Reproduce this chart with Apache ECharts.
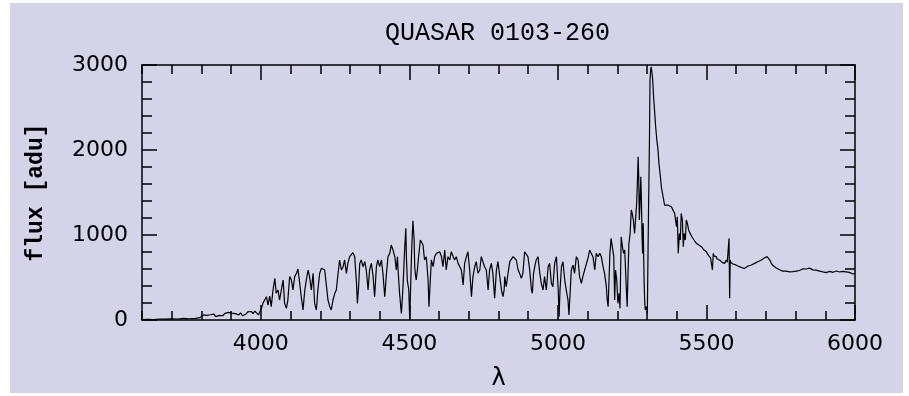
<!DOCTYPE html>
<html>
<head>
<meta charset="utf-8">
<title>QUASAR 0103-260</title>
<script src="https://cdn.jsdelivr.net/npm/echarts@6/dist/echarts.min.js"></script>
<style>
  html, body { margin: 0; padding: 0; background: #ffffff; }
  #panel { position: absolute; left: 10px; top: 3px; width: 893px; height: 390px; background: #d5d3e8; }
  #chart { position: absolute; left: 0; top: 0; width: 909px; height: 396px; }
</style>
</head>
<body>
<div id="panel"></div>
<div id="chart"></div>
<script>
// Spectrum of QUASAR 0103-260: [wavelength (Å), flux (adu)] pairs, blue to red.
const blueContinuum = [
  [3600,5],[3620,8],[3640,6],[3660,12],[3680,10],[3700,14],[3720,12],[3740,18],[3760,15],[3780,20],
  [3795,28],[3800,45],[3806,60],[3812,40],[3818,55],[3824,35],[3830,62],[3836,48],[3842,70],[3848,40],
  [3854,30],[3860,55],[3866,70],[3872,50],[3878,75],[3884,60],[3890,90],[3896,70],[3902,80],[3908,100],
  [3914,75],[3920,95],[3926,60],[3932,85],[3938,50],[3944,35],[3950,70],[3956,95],[3962,80],[3968,100],
  [3974,75],[3980,105],[3986,90],[3992,60]
];
const forestA = [
  [3996,39],[4002,137],[4007,196],[4013,235],[4019,274],[4024,176],[4030,282],[4035,157],[4041,353],[4047,490],
  [4052,314],[4058,353],[4063,235],[4069,353],[4075,470],[4080,196],[4086,137],[4091,235],[4097,510],[4103,470],
  [4108,353],[4114,510],[4120,549],[4125,600],[4131,431],[4136,274],[4142,118],[4148,353],[4153,470],[4159,588],
  [4164,510],[4170,353],[4176,549],[4181,196],[4187,118],[4192,353],[4198,549],[4204,608],[4209,608],[4215,588],
  [4221,392],[4226,235],[4232,157],[4237,118],[4243,235],[4249,314],[4254,353],[4260,549],[4265,706],[4271,588],
  [4277,627],[4282,706],[4288,549],[4293,666],[4299,745],[4305,764],[4310,792],[4316,745],[4322,431],[4325,196],
  [4329,392],[4333,666],[4338,706],[4344,627],[4350,686],[4355,588],[4361,353],[4366,588],[4372,666],[4378,510],
  [4383,274],[4389,627],[4394,706],[4400,627]
];
const forestB = [
  [4406,706],[4411,549],[4417,274],[4419,353],[4422,510],[4428,745],[4434,784],[4439,882],[4445,823],[4451,745],
  [4456,588],[4460,745],[4462,588],[4467,314],[4473,78],[4476,235],[4479,431],[4484,823],[4488,1078],[4490,745],
  [4493,470],[4498,353],[4501,20],[4504,353],[4507,745],[4510,1019],[4512,1168],[4516,941],[4518,627],[4520,549],
  [4523,470],[4527,588],[4531,745],[4537,941],[4540,960],[4546,882],[4551,706],[4557,745],[4563,470],[4566,157],
  [4571,510],[4574,706],[4580,627],[4585,745],[4591,784],[4596,764],[4602,803],[4608,745],[4613,627],[4619,823],
  [4624,588],[4630,745],[4636,706],[4641,803],[4647,784],[4652,706],[4658,745],[4664,666],[4669,647],[4675,588],
  [4681,412],[4686,666],[4692,745],[4697,803],[4703,588],[4709,274],[4714,510],[4720,627],[4725,686],[4731,549],
  [4737,588],[4742,745],[4748,764],[4753,627],[4759,588],[4765,353],[4770,588],[4776,666],[4781,549],[4787,255],
  [4793,588],[4798,686],[4804,706]
];
const forestC = [
  [4810,353],[4815,274],[4819,353],[4821,510],[4826,392],[4832,549],[4838,686],[4843,706],[4849,745],[4854,764],
  [4860,706],[4866,588],[4871,549],[4877,490],[4882,549],[4888,803],[4894,784],[4899,745],[4905,588],[4911,353],
  [4914,314],[4918,549],[4922,627],[4927,706],[4933,745],[4939,549],[4944,431],[4950,353],[4955,510],[4961,353],
  [4967,627],[4972,666],[4978,431],[4983,392],[4989,666],[4995,745],[4998,725],[5001,353],[5004,39],[5007,353],
  [5012,627],[5017,686],[5023,470],[5028,353],[5034,235],[5037,59],[5041,314],[5045,588],[5051,647],[5056,549],
  [5062,745],[5068,706],[5073,510],[5079,431],[5084,510],[5090,588],[5096,588],[5101,725],[5107,823],[5112,784],
  [5118,745],[5124,588],[5129,784],[5135,745],[5141,784],[5146,745],[5152,627],[5157,549],[5163,392],[5166,235],
  [5169,157],[5172,470],[5175,784],[5179,960],[5183,941],[5188,745],[5191,235],[5194,588],[5198,470],[5202,196]
];
const lymanAlphaPeak = [
  [5206,314],[5209,137],[5213,980],[5217,863],[5221,784],[5225,823],[5229,470],[5233,157],[5236,549],[5239,902],
  [5243,1019],[5247,1294],[5250,1254],[5254,1176],[5258,1019],[5262,1215],[5265,1372],[5267,1568],[5270,1921],[5272,1686],
  [5274,1176],[5276,1333],[5279,1686],[5281,1411],[5283,1019],[5285,784],[5287,1137],[5290,470],[5292,235],[5294,118],
  [5298,157],[5301,78],[5303,706],[5305,1294],[5308,2078],[5310,2823],[5312,2940],[5314,2979],[5317,2901],[5319,2823],
  [5322,2627],[5326,2431],[5329,2274],[5333,2117],[5337,1999],[5340,1843],[5345,1686],[5348,1568],[5354,1450],[5359,1352],
  [5365,1333],[5370,1352],[5376,1345],[5382,1333],[5387,1313],[5393,1254],[5399,1098],[5402,1215],[5405,784],[5409,1019],
  [5412,941],[5415,1254],[5419,1176],[5422,863],[5425,1019],[5429,941],[5432,1176],[5436,1137],[5440,1058],[5445,1019],
  [5448,1002],[5451,980],[5455,962],[5458,941],[5462,925],[5466,902],[5470,896],[5474,882],[5479,870],[5483,863],
  [5487,842],[5492,823],[5496,812],[5500,804],[5503,780],[5505,765],[5508,755],[5511,745],[5514,728],[5516,706],
  [5520,588],[5523,784],[5526,752],[5528,765],[5531,740],[5533,745],[5536,718],[5539,706],[5542,712],[5544,706],
  [5547,694],[5550,686],[5553,678],[5556,686],[5559,672],[5561,666],[5564,684],[5567,706],[5570,680],[5572,666],
  [5576,960],[5578,255],[5580,706],[5582,676],[5584,666],[5587,668],[5589,659],[5592,654],[5595,647],[5598,651],
  [5601,647],[5603,640],[5606,635]
];
const redContinuum = [
  [5612,627],[5617,619],[5622,628],[5627,606],[5633,615],[5640,635],[5645,624],[5651,647],[5656,638],[5662,666],
  [5667,655],[5673,686],[5679,676],[5685,706],[5690,698],[5696,733],[5699,741],[5701,753],[5704,745],[5707,733],
  [5710,720],[5713,706],[5716,690],[5718,666],[5724,640],[5730,619],[5735,612],[5741,600],[5746,592],[5752,584],
  [5757,575],[5763,568],[5768,574],[5774,557],[5780,566],[5786,576],[5791,569],[5797,580],[5802,574],[5808,588],
  [5813,582],[5819,596],[5825,603],[5831,611],[5836,600],[5842,604],[5847,610],[5853,596],[5858,590],[5864,580],
  [5869,586],[5875,568],[5881,575],[5887,557],[5892,566],[5898,568],[5903,558],[5909,564],[5914,572],[5920,568],
  [5926,561],[5931,568],[5937,576],[5943,572],[5948,565],[5954,580],[5959,572],[5965,576],[5970,566],[5976,568],
  [5981,560],[5987,557],[5993,541],[6000,545]
];

// Axis ranges and labelled ticks
const lambdaRange = [3600, 6000];
const fluxRange = [0, 3000];
const lambdaMajorTicks = [4000, 4500, 5000, 5500, 6000];
const fluxMajorTicks = [0, 1000, 2000, 3000];

const spectrum = [].concat(blueContinuum, forestA, forestB, forestC, lymanAlphaPeak, redContinuum);

const INK = '#000000';
const tickFont = { fontFamily: 'DejaVu Sans', fontSize: 22, color: INK };
const plainNumber = v => String(v);

function lambdaAxis(position, major, withLabels) {
  const axis = {
    type: 'value',
    position: position,
    min: lambdaRange[0],
    max: lambdaRange[1],
    splitLine: { show: false },
    axisLine: { show: major, lineStyle: { color: INK, width: 1.5 } }
  };
  if (major) {
    axis.axisTick = { show: true, inside: true, length: 15, customValues: lambdaMajorTicks,
                      lineStyle: { color: INK, width: 1.5 } };
    axis.axisLabel = withLabels
      ? Object.assign({ show: true, margin: 13, customValues: lambdaMajorTicks, formatter: plainNumber }, tickFont)
      : { show: false };
  } else {
    axis.interval = 100;
    axis.axisTick = { show: true, inside: true, length: 9, lineStyle: { color: INK, width: 1.5 } };
    axis.axisLabel = { show: false };
  }
  return axis;
}

function fluxAxis(position, withLabels) {
  return {
    type: 'value',
    position: position,
    min: fluxRange[0],
    max: fluxRange[1],
    interval: 1000,
    splitLine: { show: false },
    axisLine: { show: true, lineStyle: { color: INK, width: 1.5 } },
    axisTick: { show: true, inside: true, length: 15, lineStyle: { color: INK, width: 1.5 } },
    minorTick: { show: true, splitNumber: 5, length: 10, lineStyle: { color: INK, width: 1.5 } },
    axisLabel: withLabels
      ? Object.assign({ show: true, margin: 14, customValues: fluxMajorTicks, formatter: plainNumber }, tickFont)
      : { show: false }
  };
}

const chart = echarts.init(document.getElementById('chart'), null, { renderer: 'canvas' });

const xBottom = lambdaAxis('bottom', true, true);
xBottom.name = 'λ';
xBottom.nameLocation = 'middle';
xBottom.nameGap = 47;
xBottom.nameTextStyle = { fontFamily: 'DejaVu Sans', fontSize: 24, color: INK };

const yLeft = fluxAxis('left', true);
yLeft.name = 'flux [adu]';
yLeft.nameLocation = 'middle';
yLeft.nameRotate = 90;
yLeft.nameGap = 94;
yLeft.nameTextStyle = { fontFamily: 'Liberation Mono', fontWeight: 'bold', fontSize: 23, color: INK };

chart.setOption({
  backgroundColor: 'transparent',
  animation: false,
  title: {
    text: 'QUASAR 0103-260',
    left: 380,
    top: 16,
    textStyle: { fontFamily: 'Liberation Mono', fontWeight: 'normal', fontSize: 25, color: INK }
  },
  grid: { left: 142, right: 54, top: 65, bottom: 76, containLabel: false, outerBoundsMode: 'none' },
  xAxis: [
    xBottom,
    lambdaAxis('bottom', false, false),
    lambdaAxis('top', true, false),
    lambdaAxis('top', false, false)
  ],
  yAxis: [
    yLeft,
    fluxAxis('right', false)
  ],
  series: [{
    type: 'line',
    xAxisIndex: 0,
    yAxisIndex: 0,
    data: spectrum,
    showSymbol: false,
    clip: true,
    lineStyle: { color: INK, width: 1.2 }
  }]
});
</script>
</body>
</html>
